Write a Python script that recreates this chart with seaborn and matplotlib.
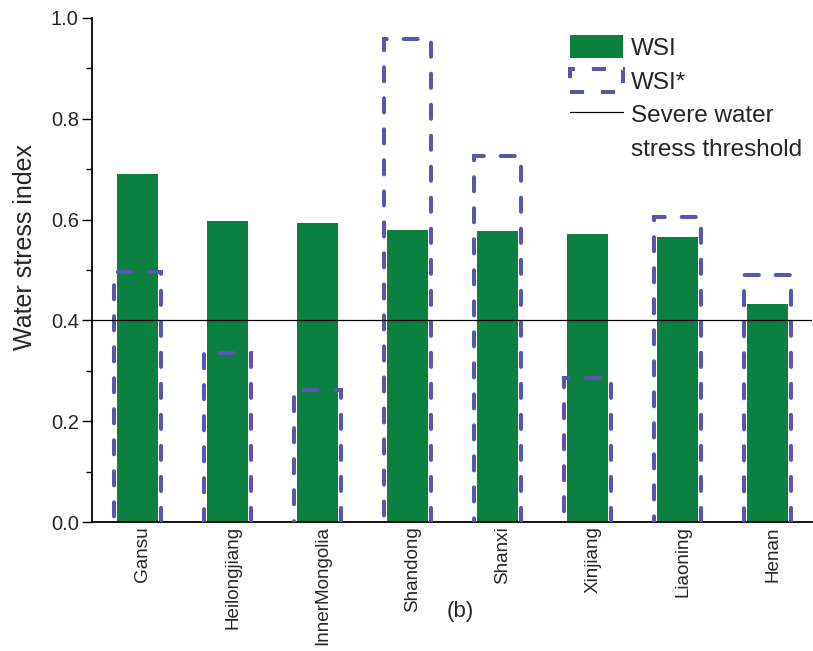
import matplotlib
matplotlib.use("Agg")
import matplotlib.pyplot as plt
from matplotlib.patches import Patch
from matplotlib.lines import Line2D
from matplotlib.ticker import MultipleLocator, FormatStrFormatter
from matplotlib.transforms import ScaledTranslation
import seaborn as sns
import pandas as pd

regions = ["Gansu", "Heilongjiang", "InnerMongolia", "Shandong",
           "Shanxi", "Xinjiang", "Liaoning", "Henan"]
wsi = [0.690, 0.597, 0.593, 0.579, 0.578, 0.571, 0.566, 0.433]
wsi_star = [0.497, 0.336, 0.262, 0.958, 0.726, 0.286, 0.605, 0.490]
threshold = 0.4

GREEN = "#0b8040"
PURPLE = "#5757ab"
DASH = (0, (3.5, 4.2))

sns.set_style("ticks")
plt.rcParams["font.family"] = ["Liberation Sans", "DejaVu Sans"]

df = pd.DataFrame({"region": regions, "WSI": wsi, "WSI*": wsi_star})

fig = plt.figure(figsize=(8.13, 6.51), dpi=100)
ax = fig.add_axes([92 / 813, 129 / 651, 720 / 813, 504 / 651])

sns.barplot(data=df, x="region", y="WSI", color=GREEN, width=0.455,
            saturation=1, edgecolor="none", ax=ax, zorder=2)
n_green = len(ax.patches)
sns.barplot(data=df, x="region", y="WSI*", fill=False, width=0.52,
            edgecolor=PURPLE, linewidth=2.9, ax=ax, zorder=3)
# open-bottom dashed outlines: push the lower edge below the axis so it is clipped
for p in ax.patches[n_green:]:
    p.set_linestyle(DASH)
    p.set_edgecolor(PURPLE)
    p.set_facecolor("none")
    p.set_capstyle("round")
    h = p.get_height()
    p.set_y(-0.03)
    p.set_height(h + 0.03)

ax.axhline(threshold, color="black", lw=0.9, zorder=4)

ax.set_xlim(-0.505, 7.49)
ax.set_ylim(0, 1.0)
ax.yaxis.set_major_locator(MultipleLocator(0.2))
ax.yaxis.set_minor_locator(MultipleLocator(0.1))
ax.yaxis.set_major_formatter(FormatStrFormatter("%.1f"))
ax.tick_params(axis="y", which="major", length=7.5, width=1.0, labelsize=14.5,
               pad=2, color="black")
ax.tick_params(axis="y", which="minor", length=4, width=1.0, color="black")
ax.tick_params(axis="x", length=0, labelsize=13.6, pad=3)
shift = ScaledTranslation(5 / 100, 0, fig.dpi_scale_trans)
for lab in ax.get_xticklabels():
    lab.set_rotation(90)
    lab.set_ha("center")
    lab.set_va("top")
    lab.set_transform(lab.get_transform() + shift)

ax.set_xlabel("")
ax.set_ylabel("Water stress index", fontsize=18)
ax.yaxis.set_label_coords(-0.077, 0.545)
sns.despine(ax=ax)
for s in ("left", "bottom"):
    ax.spines[s].set_linewidth(1.3)
    ax.spines[s].set_color("black")

handles = [
    Patch(facecolor=GREEN, edgecolor="none"),
    Patch(facecolor="none", edgecolor=PURPLE, linewidth=2.9, linestyle=DASH),
    Line2D([0], [0], color="black", lw=0.9),
    Line2D([0], [0], color="none", lw=0),
]
labels = ["WSI", "WSI*", "Severe water", "stress threshold"]
fig.legend(handles, labels, loc="upper left",
           bbox_to_anchor=(570 / 813, 1 - 35 / 651),
           frameon=False, fontsize=17.5, handlelength=2.2, handleheight=1.1,
           handletextpad=0.3, labelspacing=0.36, borderpad=0, borderaxespad=0)

fig.text(460 / 813, 1 - 612 / 651, "(b)", fontsize=16, ha="center", va="center")

fig.savefig("out.png", dpi=100)
